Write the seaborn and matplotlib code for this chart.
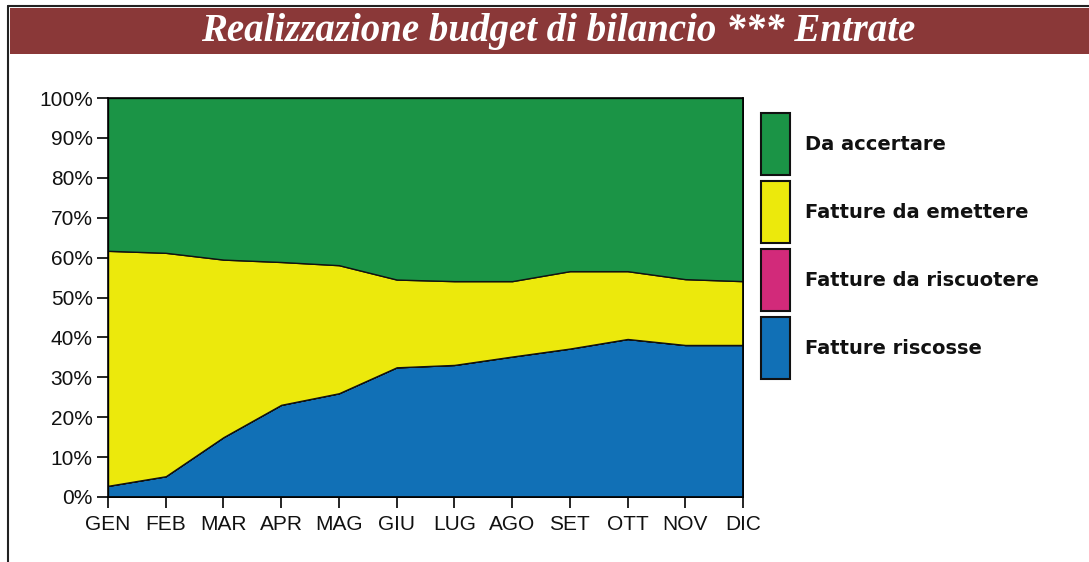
import numpy as np
import pandas as pd
import matplotlib.pyplot as plt
import seaborn as sns
from matplotlib.patches import Rectangle
from matplotlib.lines import Line2D

months = ['GEN', 'FEB', 'MAR', 'APR', 'MAG', 'GIU', 'LUG', 'AGO', 'SET', 'OTT', 'NOV', 'DIC']
riscosse = [2.8, 5.2, 15.0, 23.1, 26.0, 32.5, 33.1, 35.2, 37.2, 39.6, 38.1, 38.1]
da_riscuotere = [0, 0, 0, 0, 0, 0, 0, 0, 0, 0, 0, 0]
da_emettere = [58.9, 56.0, 44.5, 35.8, 32.1, 22.0, 21.0, 18.9, 19.4, 17.0, 16.5, 16.0]
da_accertare = [38.3, 38.8, 40.5, 41.1, 41.9, 45.5, 45.9, 45.9, 43.4, 43.4, 45.4, 45.9]

series_names = ['Fatture riscosse', 'Fatture da riscuotere', 'Fatture da emettere', 'Da accertare']
colors = ['#1170b6', '#d22a7a', '#ece90c', '#1b9446']

df = pd.DataFrame({'Mese': months,
                   'Fatture riscosse': riscosse,
                   'Fatture da riscuotere': da_riscuotere,
                   'Fatture da emettere': da_emettere,
                   'Da accertare': da_accertare})

sns.set_theme(style='white')
plt.rcParams['font.family'] = ['Liberation Sans', 'DejaVu Sans']

fig = plt.figure(figsize=(10.89, 5.62), dpi=100)
ax = fig.add_axes([108 / 1089, 1 - 497 / 562, 635 / 1089, 399 / 562])

x = np.arange(len(months))
ax.stackplot(x, [df[c] for c in series_names], colors=colors,
             edgecolor='#111111', linewidth=1.0)

ax.set_xlim(0, len(months) - 1)
ax.set_ylim(0, 100)
ax.set_xticks(x)
ax.set_xticklabels(months)
ax.set_yticks(np.arange(0, 101, 10))
ax.set_yticklabels([f'{v}%' for v in range(0, 101, 10)])
ax.tick_params(axis='both', direction='out', length=8, width=1.2, color='black',
               labelsize=15, labelcolor='#111111', pad=3, bottom=True, left=True)
ax.tick_params(axis='x', pad=5)
for s in ax.spines.values():
    s.set_color('black')
    s.set_linewidth(1.2)

# title bar
fig.patches.append(Rectangle((10 / 1089, 1 - 54 / 562), 1, 46 / 562,
                             transform=fig.transFigure, facecolor='#8a3838',
                             edgecolor='none', zorder=0))
fig.text(0.513, 1 - 32 / 562, 'Realizzazione budget di bilancio *** Entrate',
         ha='center', va='center', color='white', fontsize=28,
         fontweight='bold', fontstyle='italic', family=['Liberation Serif'])
fig.lines.append(Line2D([8 / 1089, 8 / 1089], [0, 1 - 6 / 562],
                        transform=fig.transFigure, color='#222222', lw=1.5))
fig.lines.append(Line2D([8 / 1089, 1], [1 - 6 / 562, 1 - 6 / 562],
                        transform=fig.transFigure, color='#222222', lw=1.5))

# legend
leg_names = series_names[::-1]
leg_colors = colors[::-1]
for i, (name, col) in enumerate(zip(leg_names, leg_colors)):
    top = 113 + i * 68
    fig.patches.append(Rectangle((761 / 1089, 1 - (top + 62) / 562), 29 / 1089, 62 / 562,
                                 transform=fig.transFigure, facecolor=col,
                                 edgecolor='#111111', linewidth=1.5))
    fig.text(805 / 1089, 1 - (top + 31) / 562, name, ha='left', va='center',
             fontsize=14, fontweight='bold', color='#111111',
             family=['DejaVu Sans'])

plt.savefig('out.png', dpi=100)
